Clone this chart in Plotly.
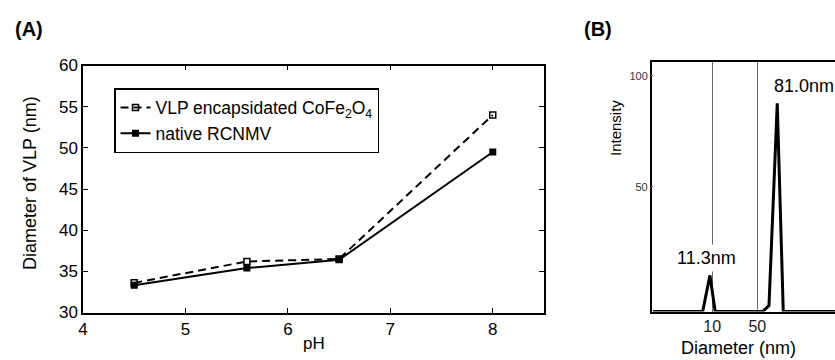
import plotly.graph_objects as go

# Panel A data
ph = [4.5, 5.6, 6.5, 8.0]
vlp_cofe = [33.6, 36.2, 36.5, 54.0]
native = [33.3, 35.4, 36.4, 49.5]
names_a = ["VLP encapsidated CoFe<sub>2</sub>O<sub>4</sub>", "native RCNMV"]
xticks_a = [4, 5, 6, 7, 8]
yticks_a = [30, 35, 40, 45, 50, 55, 60]

# Panel B data (DLS size distribution)
diam = [1.2, 7.1, 9.2, 11.1, 60.7, 75.9, 102, 126.5, 800]
intensity = [-6.3, -6.3, 10.0, -6.3, -6.3, -3.6, 87.7, -6.3, -6.3]
xticks_b = [10, 50]
yticks_b = [50, 100]
peak_labels = ["11.3nm", "81.0nm"]

FONT = "Arial, Liberation Sans, sans-serif"
W, H = 835, 360

def px(x):
    return x / W

def py(y):
    return (H - y) / H

fig = go.Figure()

fig.add_trace(go.Scatter(
    x=ph, y=vlp_cofe, name=names_a[0], mode="lines+markers",
    line=dict(color="black", width=2, dash="8px,5px"),
    marker=dict(symbol="square-open", size=6, color="black", line=dict(width=1.5)),
    xaxis="x", yaxis="y"))
fig.add_trace(go.Scatter(
    x=ph, y=native, name=names_a[1], mode="lines+markers",
    line=dict(color="black", width=2),
    marker=dict(symbol="square", size=7, color="black"),
    xaxis="x", yaxis="y"))

fig.add_trace(go.Scatter(
    x=diam, y=intensity, mode="lines", showlegend=False,
    line=dict(color="black", width=3),
    xaxis="x2", yaxis="y2"))

axis_common = dict(showline=True, linecolor="black", linewidth=1.5,
                   ticks="inside", ticklen=5, tickcolor="black",
                   showgrid=False, zeroline=False, automargin=False)

fig.update_layout(
    width=W, height=H,
    margin=dict(l=0, r=0, t=0, b=0, pad=0, autoexpand=False),
    paper_bgcolor="white", plot_bgcolor="white",
    font=dict(family=FONT, color="black", size=17),
    showlegend=True,
    legend=dict(x=px(114), y=py(88), xanchor="left", yanchor="top",
                bordercolor="black", borderwidth=1.5, bgcolor="white",
                font=dict(size=17.5, color="black"), tracegroupgap=0,
                itemwidth=30),
    xaxis=dict(domain=[px(83), px(544)], range=[4, 8.5], tickvals=xticks_a,
               mirror="ticks", anchor="y", tickfont=dict(size=17),
               **axis_common),
    yaxis=dict(domain=[py(312.5), py(65.5)], range=[30, 60], tickvals=yticks_a,
               mirror="ticks", anchor="x", tickfont=dict(size=17),
               **axis_common),
    xaxis2=dict(domain=[px(651.7), 1.0], type="log",
                range=[0.06, 2.905], tickvals=xticks_b, ticktext=["10", "50"],
                mirror=True, anchor="y2", automargin=False,
                showline=True, linecolor="black", linewidth=1.5,
                ticks="", showgrid=True, gridcolor="#666666", gridwidth=1,
                zeroline=False, tickfont=dict(size=16, color="#222222")),
    yaxis2=dict(domain=[py(311.5), py(62)], range=[-6.3, 106.3],
                tickvals=yticks_b, anchor="x2", automargin=False,
                showline=True, linecolor="black", linewidth=1.5,
                ticks="inside", ticklen=2, tickcolor="#555555",
                showgrid=False, zeroline=False,
                tickfont=dict(size=11, color="#333333")),
)

annotations = [
    dict(text="<b>(A)</b>", x=px(13), y=py(29), xref="paper", yref="paper",
         xanchor="left", yanchor="middle", showarrow=False, font=dict(size=20)),
    dict(text="<b>(B)</b>", x=px(582), y=py(29), xref="paper", yref="paper",
         xanchor="left", yanchor="middle", showarrow=False, font=dict(size=20)),
    dict(text="pH", x=px(314), y=py(343), xref="paper", yref="paper",
         xanchor="center", yanchor="middle", showarrow=False, font=dict(size=17)),
    dict(text="Diameter of VLP (nm)", x=px(30), y=py(183), xref="paper", yref="paper",
         textangle=-90, xanchor="center", yanchor="middle", showarrow=False,
         font=dict(size=18)),
    dict(text="Intensity", x=px(616), y=py(128), xref="paper", yref="paper",
         textangle=-90, xanchor="center", yanchor="middle", showarrow=False,
         font=dict(size=15)),
    dict(text="Diameter (nm)", x=px(738), y=py(348), xref="paper", yref="paper",
         xanchor="center", yanchor="middle", showarrow=False, font=dict(size=18)),
    dict(text=peak_labels[0], x=px(706), y=py(258), xref="paper", yref="paper",
         xanchor="center", yanchor="middle", showarrow=False, font=dict(size=18),
         bgcolor="white", borderpad=3),
    dict(text=peak_labels[1], x=px(772), y=py(86), xref="paper", yref="paper",
         xanchor="left", yanchor="middle", showarrow=False, font=dict(size=18)),
]
fig.update_layout(annotations=annotations)

fig.write_html("out.html", config={"displayModeBar": False},
               post_script="document.body.style.margin='0px';")
